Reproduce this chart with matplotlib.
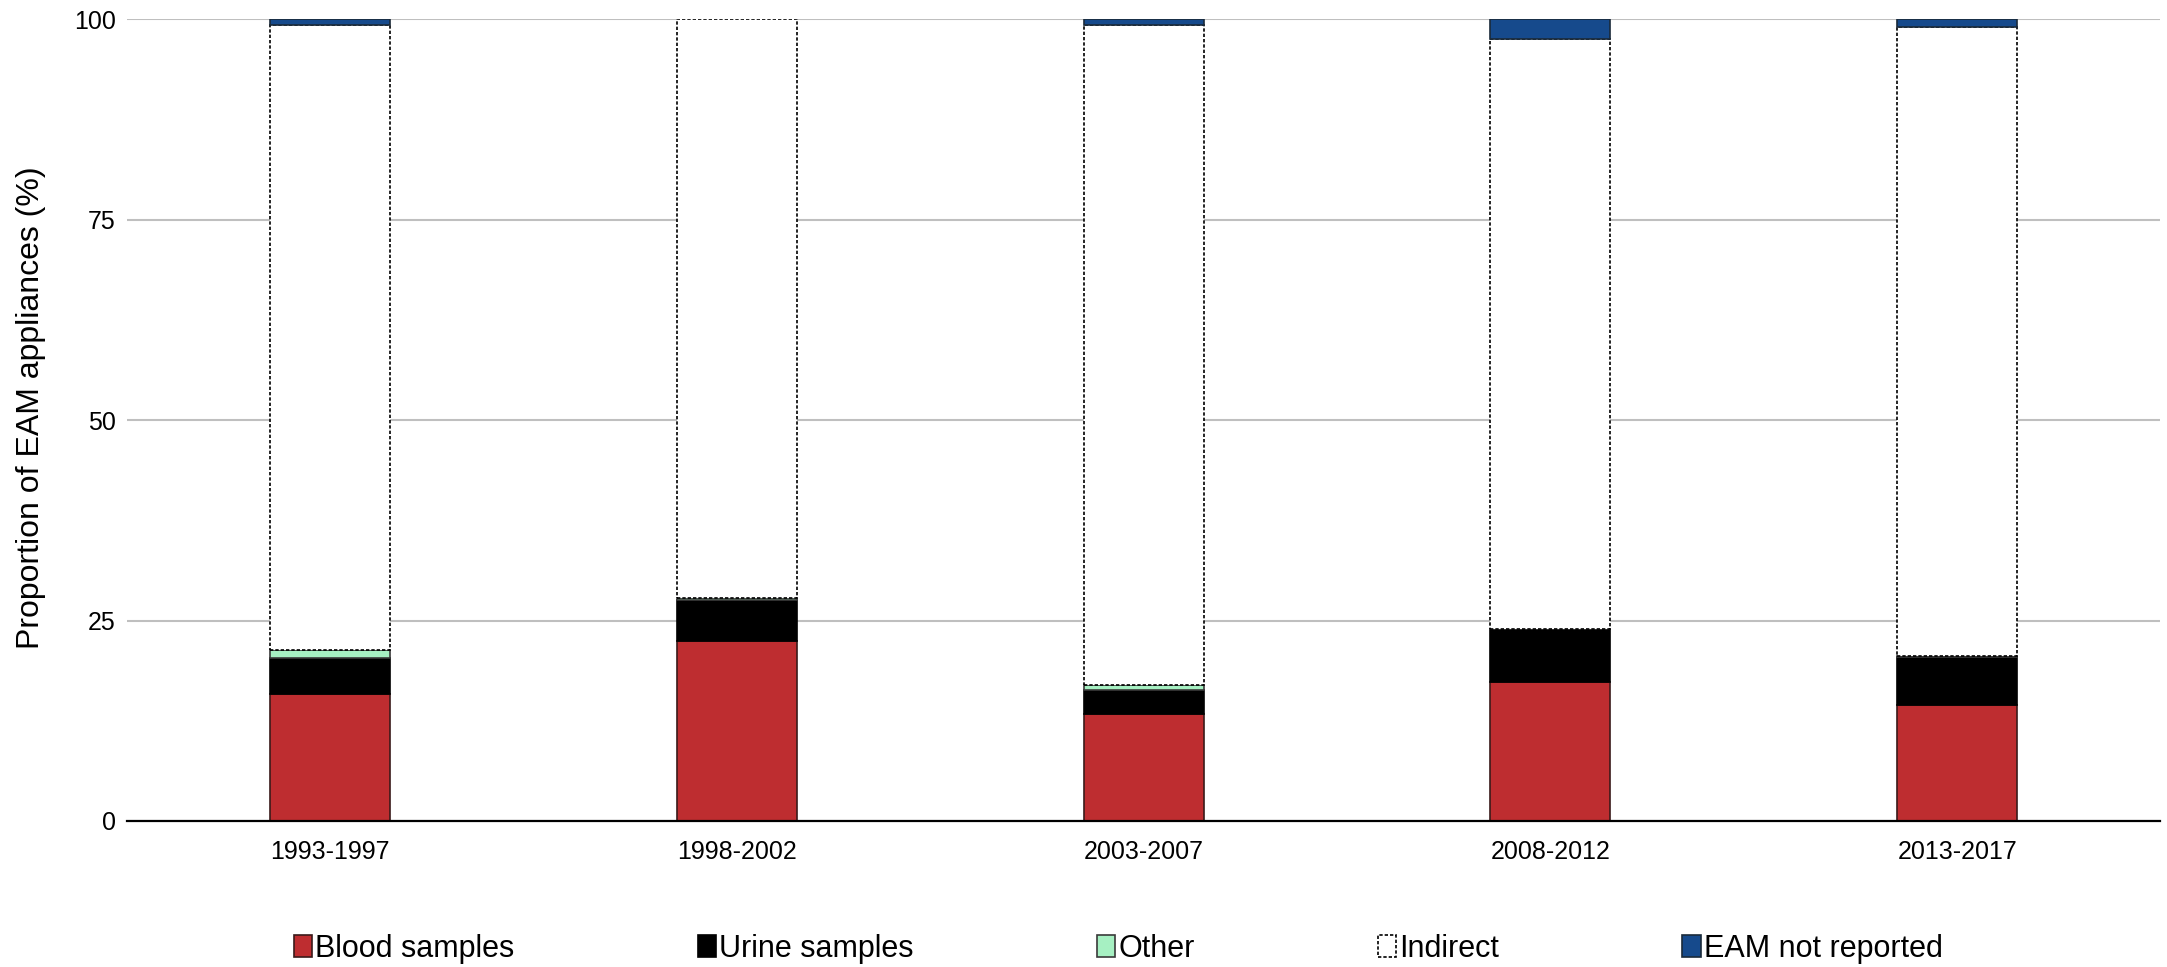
import matplotlib.pyplot as plt
import numpy as np

periods = ["1993-1997", "1998-2002", "2003-2007", "2008-2012", "2013-2017"]
blood = [15.9, 22.5, 13.4, 17.3, 14.5]
urine = [4.4, 5.1, 2.9, 6.6, 5.9]
other = [1.0, 0.2, 0.7, 0.1, 0.2]
not_reported = [0.7, 0.0, 0.7, 2.5, 0.9]
indirect = [100 - b - u - o - n for b, u, o, n in zip(blood, urine, other, not_reported)]

plt.rcParams['font.family'] = ['Liberation Sans', 'DejaVu Sans']

fig = plt.figure(figsize=(21.67, 9.67), dpi=100)
ax = fig.add_axes([0.0586, 0.151, 0.9384, 0.829])

x = np.arange(len(periods))
w = 0.295
bottom = np.zeros(len(periods))

series = [
    ("Blood samples", blood, "#BE2D30", "#3a1a1a", "-"),
    ("Urine samples", urine, "#000000", "#000000", "-"),
    ("Other", other, "#A6F0C2", "#3a3a3a", "-"),
    ("Indirect", indirect, "#FFFFFF", "#000000", (0, (2, 1.2))),
    ("EAM not reported", not_reported, "#164A8C", "#1a2a3a", "-"),
]

handles = []
for label, vals, fc, ec, ls in series:
    # no outline on empty segments
    lw = [1.2 if v > 0 else 0 for v in vals]
    b = ax.bar(x, vals, w, bottom=bottom, color=fc, edgecolor=ec,
               linewidth=lw, linestyle=ls, label=label, zorder=3)
    handles.append(b)
    bottom += np.array(vals)

ax.set_xlim(-0.5, len(periods) - 0.5)
ax.set_ylim(0, 100)
ax.set_yticks([0, 25, 50, 75, 100])
ax.set_xticks(x)
ax.set_xticklabels(periods, fontsize=18)
ax.tick_params(axis='y', labelsize=18, length=0, pad=8)
ax.tick_params(axis='x', length=0, pad=14)
ax.yaxis.grid(True, color="#BFBFBF", linewidth=1.5, zorder=0)
ax.set_axisbelow(True)
for s in ["top", "right", "left"]:
    ax.spines[s].set_visible(False)
ax.spines["bottom"].set_linewidth(1.6)
ax.spines["bottom"].set_zorder(4)
ax.set_ylabel("Proportion of EAM appliances (%)", fontsize=23, va='center')
ax.yaxis.set_label_coords(-0.047, 0.515)

leg = fig.legend(handles=handles, loc='lower center', bbox_to_anchor=(0.516, -0.025), ncol=5,
                 frameon=False, prop={'size': 22}, columnspacing=6.0,
                 handlelength=0.6, handleheight=0.7, handletextpad=0.1)
for h in leg.legend_handles:
    h.set_linewidth(1.2)

fig.savefig("out.png", dpi=100)
